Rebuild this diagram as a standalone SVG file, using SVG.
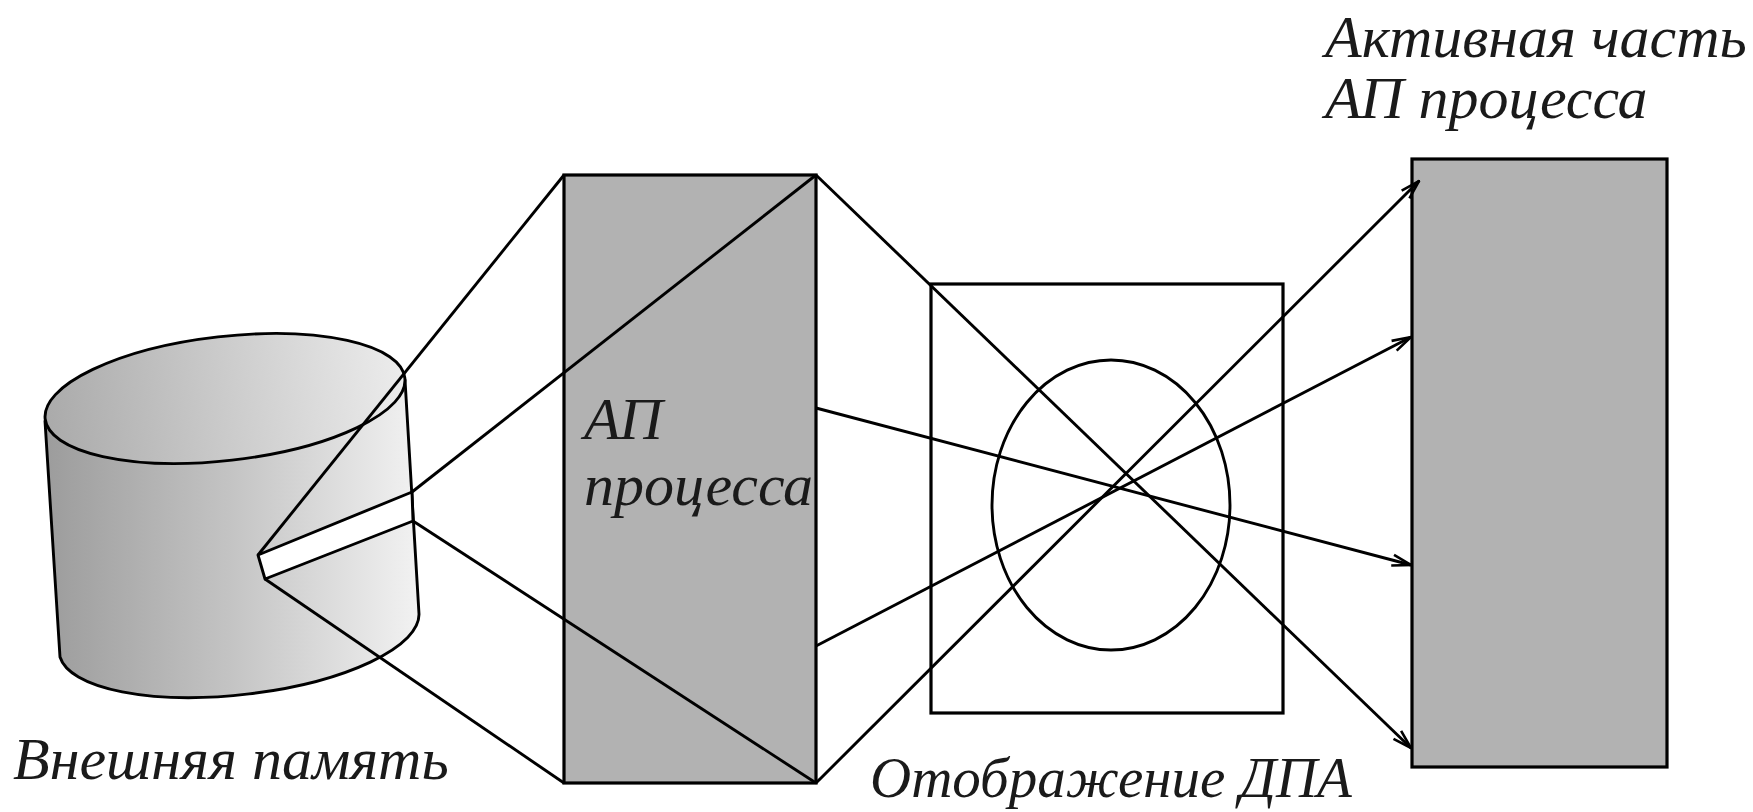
<svg xmlns="http://www.w3.org/2000/svg" width="1753" height="812" viewBox="0 0 1753 812">
<style>
.t{font-family:"Liberation Serif","DejaVu Serif",serif;font-style:italic;font-size:60px;fill:#1a1a1a}
.ln{stroke:#000;stroke-width:2.9;fill:none}
.bx{stroke:#000;stroke-width:3.2}
.gray{fill:#b2b2b2}
</style>
<defs>
<linearGradient id="gBody" x1="0" y1="0" x2="1" y2="0">
<stop offset="0" stop-color="#9c9c9c"/>
<stop offset="0.5" stop-color="#c4c4c4"/>
<stop offset="1" stop-color="#f2f2f2"/>
</linearGradient>
<linearGradient id="gTop" x1="0" y1="0" x2="1" y2="0">
<stop offset="0" stop-color="#aaaaaa"/>
<stop offset="1" stop-color="#ececec"/>
</linearGradient>
<marker id="arr" viewBox="0 0 22 14" refX="21" refY="7" markerWidth="22" markerHeight="14" markerUnits="userSpaceOnUse" orient="auto">
<path d="M2,1.5 L21,7 L2,12.5" fill="none" stroke="#000" stroke-width="2.6"/>
</marker>
</defs>
<rect width="1753" height="812" fill="#fff"/>

<g id="cylinder">
<path d="M45,421 L60,657 A181,62 -6.5 0 0 419,614 L405,380 Z" fill="url(#gBody)" stroke="#000" stroke-width="2.9" stroke-linejoin="round"/>
<ellipse cx="225" cy="398.5" rx="181" ry="62" transform="rotate(-6.5 225 398.5)" fill="url(#gTop)" stroke="#000" stroke-width="2.9"/>
<path d="M258,555 L412,492 L413,521 L265,579 Z" fill="#fff" stroke="#000" stroke-width="2.9" stroke-linejoin="round"/>
</g>

<g id="ap-process">
<rect x="564" y="175" width="252" height="608" class="gray bx"/>
</g>

<g id="mapping">
<rect x="931" y="284" width="352" height="429" fill="#fff" class="bx"/>
<ellipse cx="1111" cy="505" rx="119" ry="145" fill="none" stroke="#000" stroke-width="2.9"/>
</g>

<g id="active-part">
<rect x="1412" y="159" width="255" height="608" class="gray bx"/>
</g>

<g id="connectors">
<line x1="258" y1="555" x2="564" y2="175" class="ln"/>
<line x1="412" y1="492" x2="816" y2="175" class="ln"/>
<line x1="413" y1="521" x2="816" y2="783" class="ln"/>
<line x1="265" y1="579" x2="564" y2="783" class="ln"/>
<line x1="816" y1="175" x2="1411" y2="748" class="ln" marker-end="url(#arr)"/>
<line x1="816" y1="408" x2="1411" y2="565" class="ln" marker-end="url(#arr)"/>
<line x1="816" y1="646" x2="1411" y2="337" class="ln" marker-end="url(#arr)"/>
<line x1="816" y1="783" x2="1419" y2="181" class="ln" marker-end="url(#arr)"/>
</g>

<g id="labels">
<text class="t" x="584" y="439">АП</text>
<text class="t" x="584" y="505">процесса</text>
<text class="t" x="1325" y="57">Активная часть</text>
<text class="t" x="1325" y="118">АП процесса</text>
<text class="t" x="13" y="779">Внешняя память</text>
<text class="t" x="870" y="797" style="font-size:57px">Отображение ДПА</text>
</g>
</svg>
